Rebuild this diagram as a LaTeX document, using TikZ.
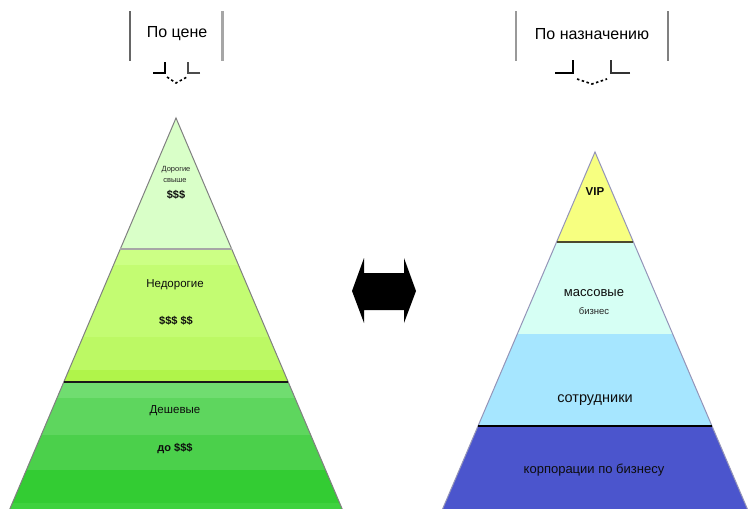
\documentclass[tikz,border=0pt]{standalone}
\usepackage{fontspec}
\setmainfont{Liberation Sans}
\begin{document}
\begin{tikzpicture}[x=1pt,y=-1pt,
  hdr/.style={font=\fontsize{16}{18}\selectfont, text=black, inner sep=0pt},
  lbl/.style={font=\fontsize{11.5}{13}\selectfont, text=black!95, inner sep=0pt},
  rlbl/.style={font=\fontsize{13}{15}\selectfont, text=black!95, inner sep=0pt},
  small/.style={font=\fontsize{7.5}{9}\selectfont, text=black!85, inner sep=0pt},
  edge/.style={draw=black!50, line width=1pt},
  lightbar/.style={line width=1.5pt, draw=black!35},
  brk/.style={line width=1.3pt, draw=black},
  dots/.style={line width=1.6pt, draw=black, dash pattern=on 2.5pt off 2.5pt}
]
\useasboundingbox (0,0) rectangle (748,509);
\definecolor{gA}{HTML}{D9FFC8}
\definecolor{gB1}{HTML}{CCFF85}
\definecolor{gB2}{HTML}{C3FC72}
\definecolor{gB3}{HTML}{BCF964}
\definecolor{gB4}{HTML}{B0F44A}
\definecolor{gC1}{HTML}{70DD70}
\definecolor{gC2}{HTML}{5ED65E}
\definecolor{gC3}{HTML}{4BD04B}
\definecolor{gC4}{HTML}{33CC33}
\definecolor{gC5}{HTML}{3ED23E}
\definecolor{rY}{HTML}{F7FF80}
\definecolor{rC}{HTML}{D6FFF4}
\definecolor{rL}{HTML}{A6E6FF}
\definecolor{rB}{HTML}{4B55CD}

% ---------- left pyramid ----------
\coordinate (LA) at (176,118);
\coordinate (LL) at (9.8,509);
\coordinate (LR) at (342.2,509);
\begin{scope}
  \clip (LA) -- (LL) -- (LR) -- cycle;
  \fill[gA]  (0,110) rectangle (360,249);
  \fill[gB1] (0,249) rectangle (360,265);
  \fill[gB2] (0,265) rectangle (360,337);
  \fill[gB3] (0,337) rectangle (360,370);
  \fill[gB4] (0,370) rectangle (360,382);
  \fill[gC1] (0,382) rectangle (360,398);
  \fill[gC2] (0,398) rectangle (360,435);
  \fill[gC3] (0,435) rectangle (360,470);
  \fill[gC4] (0,470) rectangle (360,503);
  \fill[gC5] (0,503) rectangle (360,510);
\end{scope}
\draw[edge] (LL) -- (LA) -- (LR);
\draw[lightbar] (120.3,249) -- (231.7,249);
\draw[line width=2.5pt, draw=black!90] (63.8,382) -- (288.2,382);

% ---------- right pyramid ----------
\coordinate (RA) at (595,152);
\coordinate (RL) at (442.6,509);
\coordinate (RR) at (747.4,509);
\begin{scope}
  \clip (RA) -- (RL) -- (RR) -- cycle;
  \fill[rY] (430,140) rectangle (760,242);
  \fill[rC] (430,242) rectangle (760,334);
  \fill[rL] (430,334) rectangle (760,426);
  \fill[rB] (430,426) rectangle (760,510);
\end{scope}
\draw[edge, draw=gray!80!blue!70] (RL) -- (RA) -- (RR);
\draw[line width=2pt, draw=black!60!olive] (556.6,242) -- (633.4,242);
\draw[line width=2.5pt, draw=black] (478,426) -- (712,426);

% ---------- texts left ----------
\node[small] (t1) at (176,170) {Дорогие};
\node[small] (t2) at (175,181) {свыше};
\node[lbl, font=\fontsize{11}{13}\selectfont\bfseries] (t3) at (176,195) {\$\$\$};
\node[lbl] (t4) at (175,285) {Недорогие};
\node[lbl, font=\fontsize{11}{13}\selectfont\bfseries] (t5) at (176,321) {\$\$\$ \$\$};
\node[lbl] (t6) at (175,411) {Дешевые};
\node[lbl, font=\fontsize{11}{13}\selectfont\bfseries] (t7) at (175,449) {до \$\$\$};

% ---------- texts right ----------
\node[rlbl, font=\fontsize{11.5}{13}\selectfont\bfseries] (r1) at (595,192) {VIP};
\node[rlbl] (r2) at (594,293) {массовые};
\node[small, font=\fontsize{9.5}{11}\selectfont] (r3) at (594,311) {бизнес};
\node[rlbl, font=\fontsize{14.5}{16}\selectfont] (r4) at (595,400) {сотрудники};
\node[rlbl] (r5) at (594,470) {корпорации по бизнесу};

% ---------- headers ----------
\node[hdr] (h1) at (177,34) {По цене};
\draw[line width=2.5pt, draw=black!60] (130,11) -- (130,61);
\draw[line width=3pt, draw=black!35] (222,11) -- (222,61);
\node[hdr] (h2) at (592,34) {По назначению};
\draw[line width=2.5pt, draw=black!40] (516,11) -- (516,61);
\draw[line width=2.5pt, draw=black!50] (668,11) -- (668,61);

% brackets
\coordinate (b1a) at (153,73); \coordinate (b1b) at (165,73); \coordinate (b1c) at (165,62);
\coordinate (b1d) at (200,73); \coordinate (b1e) at (188,73); \coordinate (b1f) at (188,62);
\draw[brk] (b1a) -- (b1b) -- (b1c);
\draw[brk, draw=black!70] (b1d) -- (b1e) -- (b1f);
\draw[dots] (167,77) -- (176,83) -- (187,77);

\coordinate (b2a) at (555,73); \coordinate (b2b) at (573,73); \coordinate (b2c) at (573,60);
\coordinate (b2d) at (630,73); \coordinate (b2e) at (611,73); \coordinate (b2f) at (611,60);
\draw[brk] (b2a) -- (b2b) -- (b2c);
\draw[brk, draw=black!80] (b2d) -- (b2e) -- (b2f);
\draw[dots] (577,79) -- (592,84) -- (607,79);

% ---------- double arrow ----------
\fill[black] (352,291) -- (364,258) -- (364,273) -- (404,273) -- (404,258)
  -- (416,291) -- (404,323) -- (404,310) -- (364,310) -- (364,323) -- cycle;
\end{tikzpicture}
\end{document}
